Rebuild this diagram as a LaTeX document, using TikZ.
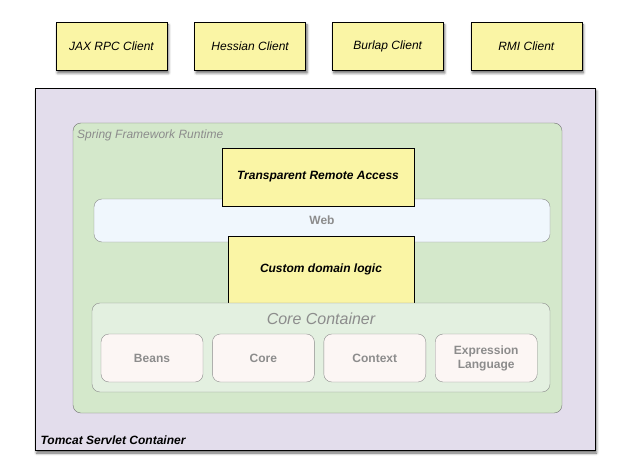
\documentclass[tikz,border=0pt]{standalone}
\usepackage{fontspec}
\setmainfont{Liberation Sans}
\usetikzlibrary{positioning,shadows.blur}

\definecolor{noteyellow}{RGB}{250,245,165}
\definecolor{tomcatbg}{RGB}{227,221,236}
\definecolor{springbg}{RGB}{212,232,203}
\definecolor{webbg}{RGB}{240,247,253}
\definecolor{corebg}{RGB}{227,240,224}
\definecolor{modbg}{RGB}{252,246,244}
\definecolor{labelgray}{RGB}{140,140,140}

\begin{document}
\begin{tikzpicture}[x=1pt, y=-1pt, node distance=27pt,
    txt/.style = {font=\fontsize{12}{14}\selectfont},
    client/.style = {txt, draw, semithick, fill=noteyellow, minimum width=111pt, minimum height=48pt,
        font=\fontsize{12}{14}\selectfont\itshape,
        blur shadow={shadow xshift=1.5pt, shadow yshift=-3pt, shadow blur radius=2.5pt, shadow opacity=60}},
    note/.style = {draw, semithick, fill=noteyellow, font=\fontsize{12}{14}\selectfont\bfseries\itshape},
    panel/.style = {draw=black!45, rounded corners=8pt},
    module/.style = {panel, fill=modbg, minimum width=102pt, minimum height=48pt, align=center,
        text=labelgray, font=\fontsize{12}{14}\selectfont\bfseries},
    title/.style = {text=labelgray, font=\fontsize{12}{14}\selectfont\itshape}]
    \useasboundingbox (0,0) rectangle (628,465);

    % remote clients
    \node[client] (jax) at (111.5,46) {JAX RPC Client};
    \node[client, right=of jax] (hessian) {Hessian Client};
    \node[client, right=26pt of hessian] (burlap) {Burlap Client};
    \node[client, right=of burlap] (rmi) {RMI Client};

    % containers
    \node[draw, fill=tomcatbg, minimum width=560pt, minimum height=362pt,
        blur shadow={shadow xshift=1.5pt, shadow yshift=-3pt, shadow blur radius=2.5pt, shadow opacity=60}] (tomcat) at (315,269) {};
    \node[txt, font=\fontsize{12}{14}\selectfont\bfseries\itshape, anchor=west] (tomcatlbl) at (37,440) {Tomcat Servlet Container};

    \node[panel, draw=black!55, fill=springbg, minimum width=489pt, minimum height=290pt] (spring) at (317.5,268) {};
    \node[title, anchor=west, inner sep=1pt] (springlbl) at (76,135) {Spring Framework Runtime};

    \node[panel, fill=webbg, minimum width=456pt, minimum height=43pt,
        text=labelgray, font=\fontsize{12}{14}\selectfont\bfseries] (web) at (322,220.5) {Web};
    \node[note, minimum width=192pt, minimum height=58pt] (remote) at (318,177) {Transparent Remote Access};
    \node[note, minimum width=186pt, minimum height=67pt] (domain) at (321,269.5) {Custom domain logic};

    \node[panel, fill=corebg, minimum width=458pt, minimum height=89pt] (corebox) at (321,347.5) {};
    \node[title, font=\fontsize{16}{18}\selectfont\itshape] (corelbl) at (321,319) {Core Container};

    % core modules
    \node[module] (beans) at (152,358) {Beans};
    \node[module, right=9pt of beans] (core) {Core};
    \node[module, right=9pt of core] (context) {Context};
    \node[module, right=9pt of context] (expr) {Expression\\Language};
\end{tikzpicture}
\end{document}
